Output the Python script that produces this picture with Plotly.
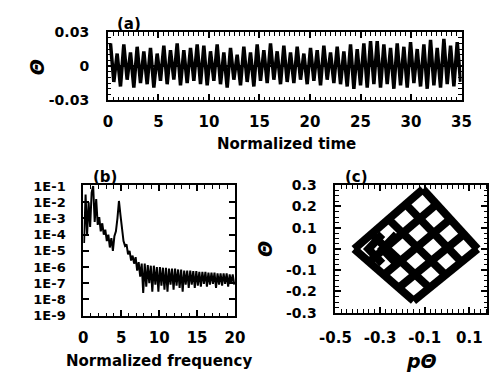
import plotly.graph_objects as go

# ---------------- data ----------------
# (a) time series: successive maxima / minima
theta_hi = [0.020, 0.011, 0.019, 0.012, 0.017, 0.013, 0.016, 0.011, 0.018, 0.014, 0.020, 0.014, 0.016, 0.019,
            0.018, 0.013, 0.019, 0.012, 0.016, 0.010, 0.017, 0.012, 0.019, 0.014, 0.020, 0.013, 0.018,
            0.012, 0.017, 0.011, 0.016, 0.014, 0.018, 0.012, 0.017, 0.013, 0.019, 0.015, 0.020, 0.022,
            0.022, 0.019, 0.016, 0.020, 0.017, 0.021, 0.015, 0.019, 0.023, 0.016, 0.024, 0.018, 0.021]
theta_lo = [-0.014, -0.018, -0.012, -0.019, -0.015, -0.016, -0.019, -0.013, -0.016, -0.012, -0.017, -0.015, -0.013, -0.016,
            -0.017, -0.013, -0.016, -0.019, -0.012, -0.017, -0.014, -0.018, -0.013, -0.015, -0.012, -0.016, -0.014,
            -0.015, -0.012, -0.016, -0.013, -0.017, -0.012, -0.015, -0.016, -0.018, -0.020, -0.017, -0.019, -0.016,
            -0.019, -0.016, -0.020, -0.017, -0.019, -0.015, -0.018, -0.020, -0.017, -0.019, -0.016, -0.018, -0.014]
t_start = 0.25
t_half = 0.33

# (b) power spectrum, samples every 0.2 in normalized frequency
f_start = 0.1
f_step = 0.2
power = [3e-5, 3e-2, 1e-4, 1e-2, 3e-4, 4e-2, 1e-1, 6e-4, 1.6e-2, 4e-4,
         1.2e-3, 1.6e-4, 5e-4, 1e-4, 2e-4, 4e-5, 1e-4, 1.6e-5, 6e-5, 1e-5,
         8e-5, 1.6e-4, 1e-3, 1.2e-2, 1.6e-3, 1.6e-4, 4e-5, 2e-5, 2.5e-5, 6e-6,
         1e-5, 2.5e-6, 5e-6, 1.6e-6, 4e-6, 6e-7, 2e-6, 2.5e-7, 1.6e-6, 2.5e-8,
         1.6e-6, 6e-8, 1.3e-6, 1e-7, 1.2e-6, 3e-8, 1.2e-6, 8e-8, 1e-6, 3e-8,
         1e-6, 7e-8, 9e-7, 4e-8, 9e-7, 3e-8, 8e-7, 8e-8, 8e-7, 4e-8,
         8e-7, 7e-8, 7e-7, 5e-8, 7e-7, 3e-8, 6e-7, 8e-8, 6e-7, 5e-8,
         6e-7, 8e-8, 5.5e-7, 5e-8, 5.5e-7, 7e-8, 5e-7, 6e-8, 5e-7, 9e-8,
         5e-7, 6e-8, 4.5e-7, 8e-8, 4.5e-7, 9e-8, 4.5e-7, 5e-8, 4e-7, 8e-8,
         4e-7, 7e-8, 4e-7, 9e-8, 4e-7, 6e-8, 3.5e-7, 1e-7, 3.5e-7, 8e-8]

# (c) phase portrait: strands of the trajectory (p_theta, theta), None separates strands
strand_a_p = [-0.416, -0.150, None, -0.339, -0.078, None, -0.262, -0.007, None, -0.185, 0.065, None, -0.108, 0.137]
strand_a_t = [0.000, -0.244, None, 0.070, -0.183, None, 0.140, -0.122, None, 0.211, -0.061, None, 0.281, 0.000]
strand_b_p = [-0.416, -0.108, None, -0.350, -0.047, None, -0.283, 0.015, None, -0.217, 0.076, None, -0.150, 0.137]
strand_b_t = [0.000, 0.281, None, -0.061, 0.211, None, -0.122, 0.141, None, -0.183, 0.070, None, -0.244, 0.000]
chevron_p = [-0.290, -0.352, -0.290, None, -0.226, -0.289, -0.226]
chevron_t = [0.069, 0.000, -0.069, None, 0.069, 0.000, -0.069]

# tick labels
a_yvals = [0.03, 0, -0.03]
a_ytext = ["0.03", "0", "-0.03"]
a_xvals = [0, 5, 10, 15, 20, 25, 30, 35]
b_xvals = [0, 5, 10, 15, 20]
b_yvals = [1e-1, 1e-2, 1e-3, 1e-4, 1e-5, 1e-6, 1e-7, 1e-8, 1e-9]
b_ytext = ["1E-1", "1E-2", "1E-3", "1E-4", "1E-5", "1E-6", "1E-7", "1E-8", "1E-9"]
c_xvals = [-0.5, -0.3, -0.1, 0.1]
c_xtext = ["-0.5", "-0.3", "-0.1", "0.1"]
c_yvals = [0.3, 0.2, 0.1, 0, -0.1, -0.2, -0.3]
c_ytext = ["0.3", "0.2", "0.1", "0", "-0.1", "-0.2", "-0.3"]

# ---------------- build ----------------
t_series, th_series = [], []
for i, (hi, lo) in enumerate(zip(theta_hi, theta_lo)):
    t_series += [t_start + 2 * i * t_half, t_start + (2 * i + 1) * t_half]
    th_series += [hi, lo]
freqs = [f_start + k * f_step for k in range(len(power))]

FONT = "DejaVu Sans"
def tf(size):
    return dict(family=FONT, size=size, color="black", weight="bold")

fig = go.Figure()
fig.add_trace(go.Scatter(x=t_series, y=th_series, mode="lines",
                         line=dict(color="black", width=3.5), xaxis="x", yaxis="y"))
fig.add_trace(go.Scatter(x=freqs, y=power, mode="lines",
                         line=dict(color="black", width=2), xaxis="x2", yaxis="y2"))
for px, th in [(strand_a_p, strand_a_t), (strand_b_p, strand_b_t), (chevron_p, chevron_t)]:
    fig.add_trace(go.Scatter(x=px, y=th, mode="lines", connectgaps=False,
                             line=dict(color="black", width=8), xaxis="x3", yaxis="y3"))

def box_axis(**kw):
    d = dict(showline=True, linecolor="black", linewidth=2, mirror="allticks",
             ticks="inside", ticklen=6, tickwidth=1.5, tickcolor="black",
             showgrid=False, zeroline=False, fixedrange=True)
    d.update(kw)
    return d

def minor(dt, t0=0):
    return dict(ticks="inside", ticklen=3.5, tickwidth=1, tickcolor="black",
                tickmode="linear", tick0=t0, dtick=dt, showgrid=False)

fig.update_layout(
    width=500, height=380, autosize=False,
    margin=dict(l=0, r=0, t=0, b=0),
    paper_bgcolor="white", plot_bgcolor="white", showlegend=False,
    xaxis=box_axis(domain=[0.194, 0.94], range=[0, 35], anchor="y", tickfont=tf(15),
                   tickvals=a_xvals, minor=minor(0.5), ticklabelstandoff=7),
    yaxis=box_axis(domain=[0.747, 0.934], range=[-0.03, 0.03], anchor="x", tickfont=tf(14),
                   tickvals=a_yvals, ticktext=a_ytext, minor=minor(0.005),
                   zeroline=True, zerolinecolor="black", zerolinewidth=1.5,
                   ticklabelstandoff=14),
    xaxis2=box_axis(domain=[0.142, 0.462], range=[0, 20], anchor="y2", tickfont=tf(15),
                    tickvals=b_xvals, minor=minor(1), ticklabelstandoff=7),
    yaxis2=box_axis(domain=[0.153, 0.513], type="log", range=[-9.05, -0.95], anchor="x2",
                    tickfont=tf(13), tickvals=b_yvals, ticktext=b_ytext, ticklabelstandoff=13),
    xaxis3=box_axis(domain=[0.674, 0.994], range=[-0.5, 0.18], anchor="y3", tickfont=tf(15),
                    tickvals=c_xvals, ticktext=c_xtext, minor=minor(0.025, -0.5), ticklabelstandoff=10),
    yaxis3=box_axis(domain=[0.163, 0.513], range=[-0.3, 0.3], anchor="x3", tickfont=tf(14),
                    tickvals=c_yvals, ticktext=c_ytext, minor=minor(0.025), ticklabelstandoff=14),
)

ann_font = tf(15)
sym_font = dict(family=FONT, size=19, color="black", weight="bold", style="italic")
annotations = [
    dict(text="(a)", x=0.238, y=0.955),
    dict(text="(b)", x=0.188, y=0.537),
    dict(text="(c)", x=0.718, y=0.537),
    dict(text="Normalized time", x=0.57, y=0.626),
    dict(text="Normalized frequency", x=0.302, y=0.03),
]
for a in annotations:
    fig.add_annotation(xref="paper", yref="paper", showarrow=False, font=ann_font,
                       xanchor="center", yanchor="middle", **a)
fig.add_annotation(text="Θ", x=0.044, y=0.837, xref="paper", yref="paper", showarrow=False,
                   font=sym_font, textangle=-90, xanchor="center", yanchor="middle")
fig.add_annotation(text="Θ", x=0.524, y=0.339, xref="paper", yref="paper", showarrow=False,
                   font=sym_font, textangle=-90, xanchor="center", yanchor="middle")
fig.add_annotation(text="pΘ", x=0.856, y=0.03, xref="paper", yref="paper", showarrow=False,
                   font=sym_font, xanchor="center", yanchor="middle")

fig.write_html("out.html", post_script="document.body.style.margin='0px';")
